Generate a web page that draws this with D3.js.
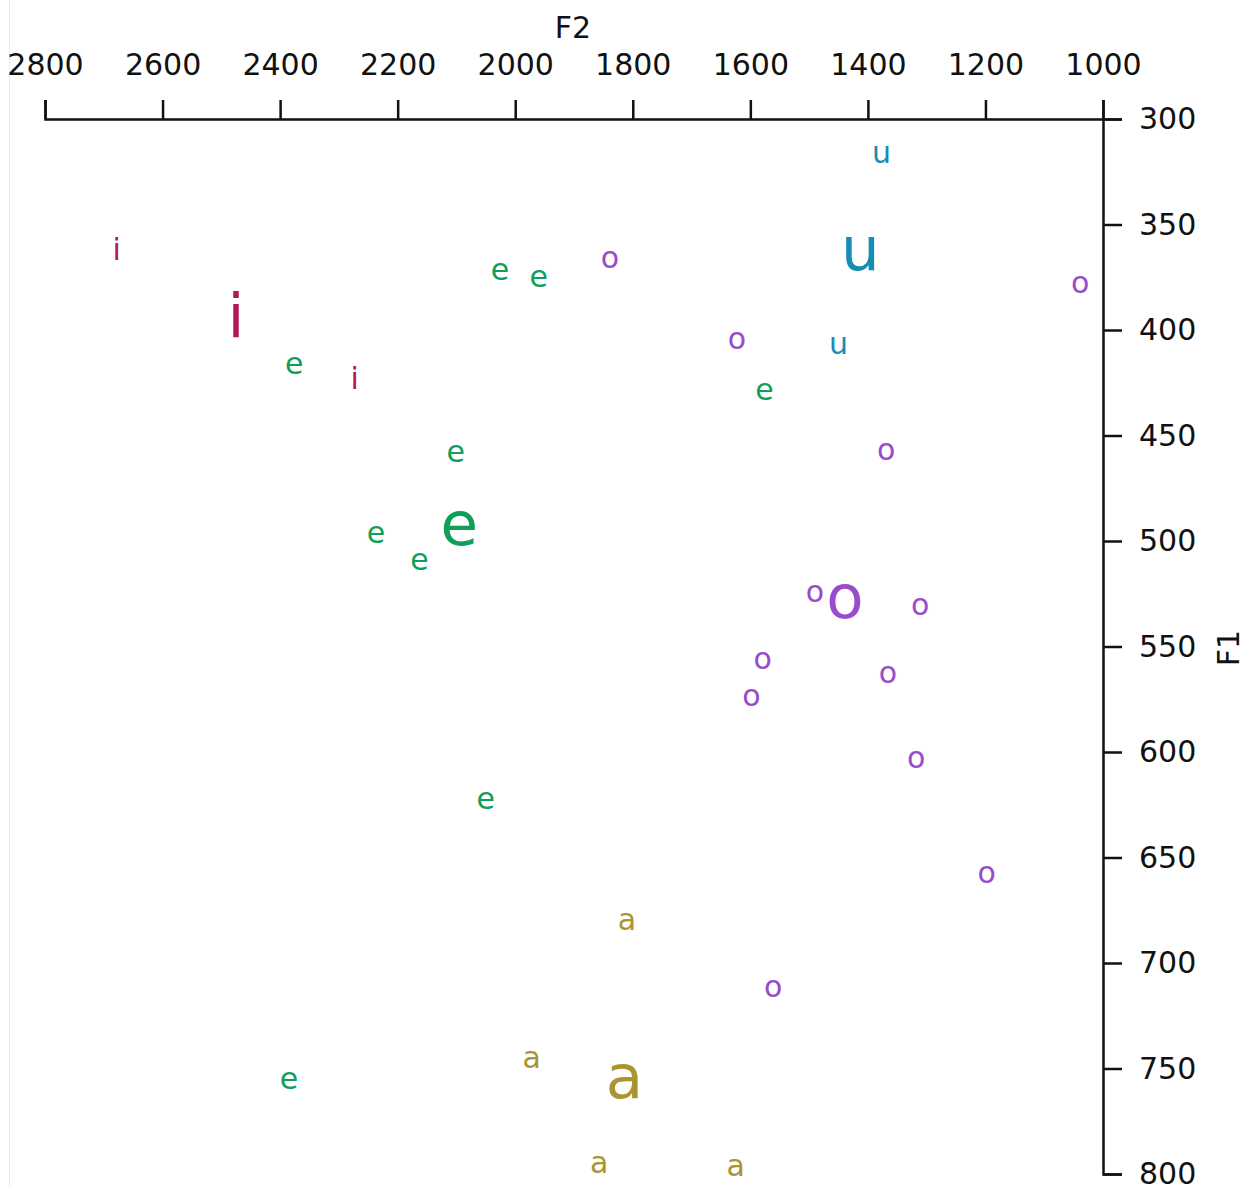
<!DOCTYPE html>
<html>
<head>
<meta charset="utf-8">
<script src="https://cdn.jsdelivr.net/npm/d3@7"></script>
<style>
  html, body { margin: 0; padding: 0; background: #fff; }
  svg { display: block; font-family: "DejaVu Sans", sans-serif; }
</style>
</head>
<body>
<svg id="chart" width="1244" height="1187"></svg>
<script>
// Vowel categories and their colours
const vowels = ["i", "e", "u", "o", "a"];
const vowelColors = ["#b3175a", "#109e58", "#168eb4", "#984ccc", "#aa9430"];

// Individual tokens (F2, F1 in Hz)
const tokenVowel = [
  "i", "i",
  "e", "e", "e", "e", "e", "e", "e", "e", "e",
  "u", "u",
  "o", "o", "o", "o", "o", "o", "o", "o", "o", "o", "o", "o",
  "a", "a", "a", "a"
];
const tokenF2 = [
  2678, 2273,
  2026, 1960, 2376, 1576, 2101, 2237, 2163, 2050, 2385,
  1377, 1450,
  1839, 1039, 1623, 1369, 1490, 1311, 1579, 1366, 1598, 1318, 1198, 1561,
  1810, 1972, 1857, 1625
];
const tokenF1 = [
  362.5, 423.7,
  372, 375, 416.6, 428.8, 458.2, 496.7, 509.3, 622.7, 755.5,
  316.3, 407.1,
  366, 377.9, 404.7, 457.3, 524.3, 530.7, 556.1, 563, 573.8, 603.3, 657.5, 711.5,
  680, 745.5, 795.3, 796.5
];

// Vowel means (drawn larger)
const meanVowel = ["i", "e", "u", "o", "a"];
const meanF2 = [2475, 2095, 1413, 1439, 1814];
const meanF1 = [394.8, 493.2, 362.9, 528, 755.1];

// Axis ticks
const f2Ticks = [2800, 2600, 2400, 2200, 2000, 1800, 1600, 1400, 1200, 1000];
const f1Ticks = [300, 350, 400, 450, 500, 550, 600, 650, 700, 750, 800];

const svg = d3.select("#chart");

const x = d3.scaleLinear().domain([2800, 1000]).range([45, 1103]);
const y = d3.scaleLinear().domain([300, 800]).range([119, 1174]);
const color = d3.scaleOrdinal().domain(vowels).range(vowelColors);

// faint frame line on the left
svg.append("line")
  .attr("x1", 9.5).attr("x2", 9.5)
  .attr("y1", 0).attr("y2", 1187)
  .attr("stroke", "#ebebeb").attr("stroke-width", 1);

// F2 axis along the top
const xAxis = svg.append("g")
  .attr("transform", "translate(0,119)")
  .call(d3.axisTop(x).tickValues(f2Ticks).tickFormat(d3.format("d"))
    .tickSize(19).tickPadding(25));

// F1 axis on the right
const yAxis = svg.append("g")
  .attr("transform", "translate(1103,0)")
  .call(d3.axisRight(y).tickValues(f1Ticks).tickFormat(d3.format("d"))
    .tickSize(19).tickPadding(17));

[xAxis, yAxis].forEach(g => {
  g.attr("font-family", "DejaVu Sans, sans-serif").attr("font-size", 30);
  g.selectAll("path.domain, line").attr("stroke", "#111").attr("stroke-width", 2.5);
  g.selectAll("text").attr("fill", "#111");
});

// axis titles
svg.append("text")
  .attr("x", 573).attr("y", 38)
  .attr("text-anchor", "middle")
  .attr("font-size", 30).attr("fill", "#111")
  .text("F2");

svg.append("text")
  .attr("transform", "translate(1239,648) rotate(-90)")
  .attr("text-anchor", "middle")
  .attr("font-size", 30).attr("fill", "#111")
  .text("F1");

// tokens
const tokens = tokenVowel.map((v, i) => ({ v, f2: tokenF2[i], f1: tokenF1[i] }));
svg.append("g").selectAll("text")
  .data(tokens)
  .join("text")
  .attr("x", d => x(d.f2))
  .attr("y", d => y(d.f1))
  .attr("dy", "0.31em")
  .attr("text-anchor", "middle")
  .attr("font-size", 30)
  .attr("fill", d => color(d.v))
  .text(d => d.v);

// means
const means = meanVowel.map((v, i) => ({ v, f2: meanF2[i], f1: meanF1[i] }));
svg.append("g").selectAll("text")
  .data(means)
  .join("text")
  .attr("x", d => x(d.f2))
  .attr("y", d => y(d.f1))
  .attr("dy", "0.30em")
  .attr("text-anchor", "middle")
  .attr("font-size", 61)
  .attr("fill", d => color(d.v))
  .text(d => d.v);
</script>
</body>
</html>
